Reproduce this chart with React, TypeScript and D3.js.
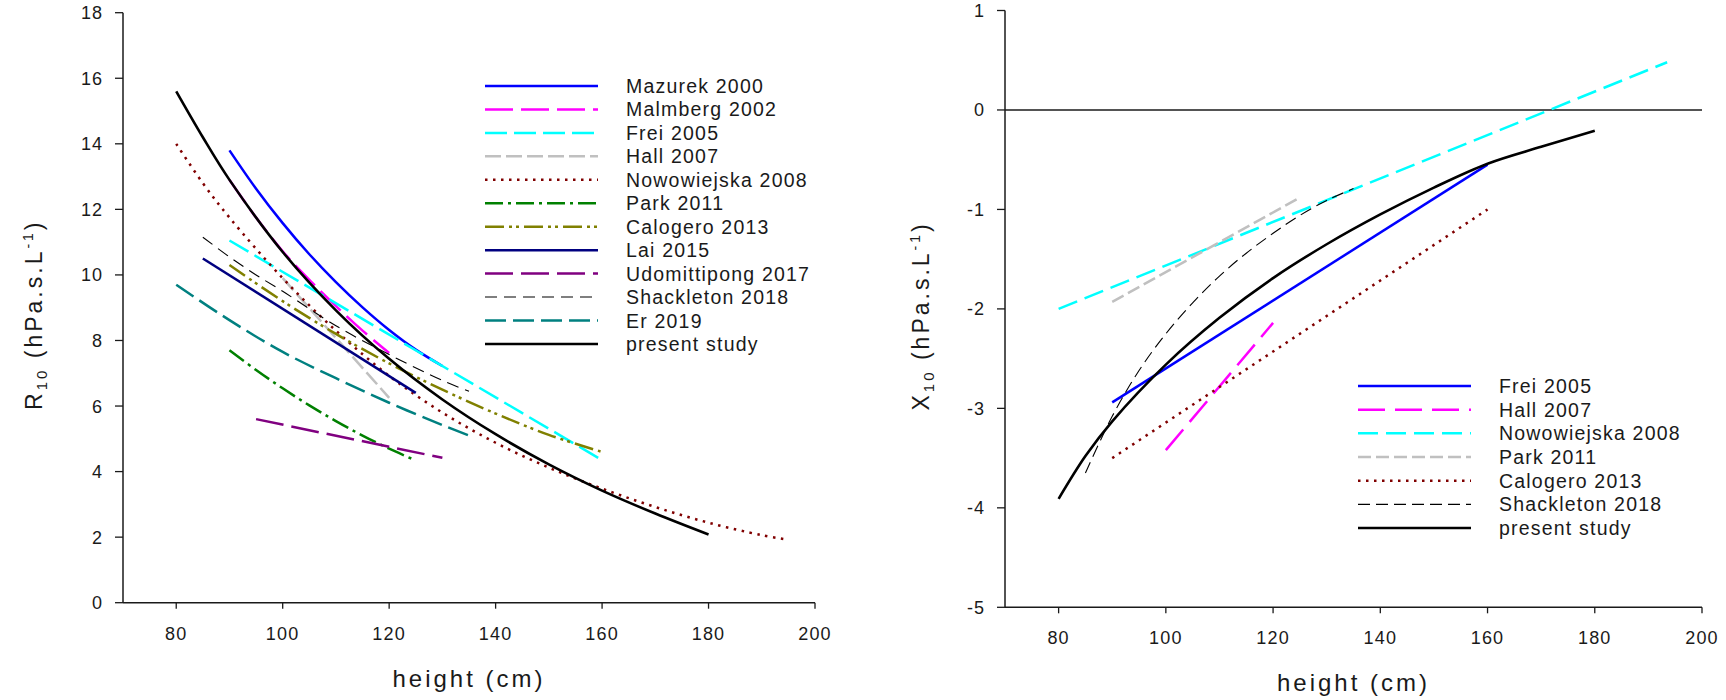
import React from "react";
import * as d3 from "d3";

// ---------- Left panel: R10 vs height ----------
const r10Mazurek2000 = [[90, 13.8], [95, 12.63], [100, 11.58], [105, 10.63], [110, 9.78], [115, 9.01], [120, 8.32], [125, 7.72], [130, 7.22]];
const r10Malmberg2002 = [[90, 12.9], [95, 11.75], [100, 10.72], [105, 9.85], [110, 9.05], [115, 8.3], [120, 7.62]];
const r10Frei2005 = [[90, 11.05], [160, 4.35]];
const r10Hall2007 = [[100, 9.9], [120, 6.25]];
const r10Nowowiejska2008 = [[80, 14.0], [85, 12.8], [90, 11.75], [100, 9.9], [110, 8.3], [120, 6.92], [130, 5.8], [140, 4.88], [150, 4.12], [160, 3.48], [170, 2.92], [180, 2.44], [190, 2.06], [195, 1.92]];
const r10Park2011 = [[90, 7.7], [95, 7.1], [100, 6.54], [105, 6.02], [110, 5.54], [115, 5.1], [120, 4.7], [125, 4.34]];
const r10Calogero2013 = [[90, 10.3], [100, 9.2], [110, 8.2], [120, 7.3], [130, 6.5], [140, 5.77], [150, 5.12], [160, 4.6]];
const r10Lai2015 = [[85, 10.5], [125, 6.4]];
const r10Udomittipong2017 = [[95, 5.6], [130, 4.42]];
const r10Shackleton2018 = [[85, 11.15], [90, 10.55], [95, 10.0], [100, 9.5], [110, 8.45], [120, 7.57], [130, 6.78], [135, 6.45]];
const r10Er2019 = [[80, 9.7], [90, 8.62], [100, 7.65], [110, 6.85], [120, 6.1], [130, 5.42], [135, 5.1]];
const r10Present = [[80, 15.6], [85, 14.2], [90, 12.9], [100, 10.7], [110, 8.92], [120, 7.44], [130, 6.2], [140, 5.14], [150, 4.22], [160, 3.42], [170, 2.72], [180, 2.08]];

// ---------- Right panel: X10 vs height ----------
const x10Frei2005 = [[90, -2.94], [160, -0.55]];
const x10Hall2007 = [[100, -3.42], [120, -2.14]];
const x10Nowowiejska2008 = [[80, -2.0], [193.5, 0.48]];
const x10Park2011 = [[90, -1.93], [125, -0.88]];
const x10Calogero2013 = [[90, -3.5], [160, -1.0]];
const x10Shackleton2018 = [[85, -3.65], [90, -3.08], [95, -2.62], [100, -2.25], [105, -1.94], [110, -1.67], [115, -1.44], [120, -1.24], [125, -1.06], [130, -0.91], [135, -0.79]];
const x10Present = [[80, -3.91], [85, -3.48], [90, -3.13], [100, -2.56], [110, -2.09], [120, -1.69], [130, -1.35], [140, -1.05], [150, -0.78], [160, -0.54], [170, -0.37], [180, -0.21]];

const xTicks = [80, 100, 120, 140, 160, 180, 200];
const leftYTicks = [0, 2, 4, 6, 8, 10, 12, 14, 16, 18];
const rightYTicks = [-5, -4, -3, -2, -1, 0, 1];

type Series = { name: string; color: string; dash: string; width: number; data: number[][] };

const leftSeries: Series[] = [
  { name: "Mazurek 2000", color: "#0000ff", dash: "", width: 2.5, data: r10Mazurek2000 },
  { name: "Malmberg 2002", color: "#ff00ff", dash: "28,8", width: 2.5, data: r10Malmberg2002 },
  { name: "Frei 2005", color: "#00ffff", dash: "22,7", width: 2.5, data: r10Frei2005 },
  { name: "Hall 2007", color: "#c0c0c0", dash: "16,5", width: 2.5, data: r10Hall2007 },
  { name: "Nowowiejska 2008", color: "#800000", dash: "2.5,5.5", width: 2.5, data: r10Nowowiejska2008 },
  { name: "Park 2011", color: "#008000", dash: "18,5,3,5", width: 2.5, data: r10Park2011 },
  { name: "Calogero 2013", color: "#808000", dash: "19,5,3,4,3,5", width: 2.5, data: r10Calogero2013 },
  { name: "Lai 2015", color: "#000080", dash: "", width: 2.5, data: r10Lai2015 },
  { name: "Udomittipong 2017", color: "#800080", dash: "28,8", width: 2.5, data: r10Udomittipong2017 },
  { name: "Shackleton 2018", color: "#000000", dash: "12,7", width: 1.1, data: r10Shackleton2018 },
  { name: "Er 2019", color: "#008080", dash: "21,7", width: 2.5, data: r10Er2019 },
  { name: "present study", color: "#000000", dash: "", width: 2.6, data: r10Present },
];

const rightSeries: Series[] = [
  { name: "Frei 2005", color: "#0000ff", dash: "", width: 2.5, data: x10Frei2005 },
  { name: "Hall 2007", color: "#ff00ff", dash: "27,10", width: 2.5, data: x10Hall2007 },
  { name: "Nowowiejska 2008", color: "#00ffff", dash: "20,8", width: 2.5, data: x10Nowowiejska2008 },
  { name: "Park 2011", color: "#c0c0c0", dash: "13,5", width: 2.5, data: x10Park2011 },
  { name: "Calogero 2013", color: "#800000", dash: "2.5,5.5", width: 2.5, data: x10Calogero2013 },
  { name: "Shackleton 2018", color: "#000000", dash: "12,6", width: 1.1, data: x10Shackleton2018 },
  { name: "present study", color: "#000000", dash: "", width: 2.6, data: x10Present },
];

const FONT = "'Liberation Sans', Arial, Helvetica, sans-serif";
const INK = "#1a1a1a";

type PanelProps = {
  xRange: [number, number];
  yDomain: [number, number];
  yRange: [number, number];
  yTicks: number[];
  series: Series[];
  legendX: number;
  legendY: number;
  legendStep: number;
  titleX: number;
  titleMain: string;
  zeroLine?: boolean;
};

function Panel(p: PanelProps) {
  const x = d3.scaleLinear().domain([70, 200]).range(p.xRange);
  const y = d3.scaleLinear().domain(p.yDomain).range(p.yRange);
  const line = d3
    .line<number[]>()
    .x((d) => x(d[0]))
    .y((d) => y(d[1]))
    .curve(d3.curveCatmullRom.alpha(0.5));
  const x0 = p.xRange[0];
  const yBottom = p.yRange[0];
  const yTop = p.yRange[1];
  const midY = (yTop + yBottom) / 2 + 7;
  return (
    <g>
      {/* axes */}
      <line x1={x0} x2={x0} y1={yTop} y2={yBottom} stroke={INK} strokeWidth={1.5} />
      <line x1={x0} x2={x(200)} y1={yBottom} y2={yBottom} stroke={INK} strokeWidth={1.5} />
      {p.zeroLine && (
        <line x1={x0} x2={x(200)} y1={y(0)} y2={y(0)} stroke={INK} strokeWidth={1.5} />
      )}
      {p.yTicks.map((t) => (
        <g key={"y" + t}>
          <line x1={x0 - 8} x2={x0} y1={y(t)} y2={y(t)} stroke={INK} strokeWidth={1.3} />
          <text
            x={x0 - 20}
            y={y(t) + 6.5}
            textAnchor="end"
            fontSize={18}
            letterSpacing={1}
            fill={INK}
            fontFamily={FONT}
          >
            {t}
          </text>
        </g>
      ))}
      {xTicks.map((t) => (
        <g key={"x" + t}>
          <line x1={x(t)} x2={x(t)} y1={yBottom} y2={yBottom + 6} stroke={INK} strokeWidth={1.3} />
          <text
            x={x(t)}
            y={yBottom + 37}
            textAnchor="middle"
            fontSize={18}
            letterSpacing={1.2}
            fill={INK}
            fontFamily={FONT}
          >
            {t}
          </text>
        </g>
      ))}
      <text
        x={(x0 + x(200)) / 2}
        y={yBottom + 84}
        textAnchor="middle"
        fontSize={24}
        letterSpacing={3}
        fill={INK}
        fontFamily={FONT}
      >
        height (cm)
      </text>
      <text
        transform={`translate(${p.titleX},${midY}) rotate(-90)`}
        textAnchor="middle"
        fontSize={23}
        letterSpacing={3}
        fill={INK}
        fontFamily={FONT}
      >
        {p.titleMain}
        <tspan fontSize={15} dy={5}>10</tspan>
        <tspan fontSize={23} dy={-5}> (hPa.s.L</tspan>
        <tspan fontSize={14} dy={-9}>-1</tspan>
        <tspan fontSize={23} dy={9}>)</tspan>
      </text>
      {/* series */}
      {p.series.map((s) => (
        <path
          key={s.name}
          d={line(s.data) || ""}
          fill="none"
          stroke={s.color}
          strokeWidth={s.width}
          strokeDasharray={s.dash || undefined}
        />
      ))}
      {/* legend */}
      {p.series.map((s, i) => {
        const ly = p.legendY + i * p.legendStep;
        return (
          <g key={"lg" + s.name}>
            <line
              x1={p.legendX}
              x2={p.legendX + 113}
              y1={ly}
              y2={ly}
              stroke={s.color}
              strokeWidth={s.width}
              strokeDasharray={s.dash || undefined}
            />
            <text
              x={p.legendX + 141}
              y={ly + 7}
              fontSize={19.5}
              letterSpacing={1.2}
              fill={INK}
              fontFamily={FONT}
            >
              {s.name}
            </text>
          </g>
        );
      })}
    </g>
  );
}

export default function App() {
  return (
    <svg
      width={1726}
      height={700}
      viewBox="0 0 1726 700"
      style={{ position: "absolute", left: 0, top: 0, background: "#ffffff" }}
    >
      <rect x={0} y={0} width={1726} height={700} fill="#ffffff" />
      <Panel
        xRange={[123, 815]}
        yDomain={[0, 18]}
        yRange={[602.7, 12.7]}
        yTicks={leftYTicks}
        series={leftSeries}
        legendX={485}
        legendY={86}
        legendStep={23.45}
        titleX={42}
        titleMain="R"
      />
      <Panel
        xRange={[1005, 1702]}
        yDomain={[-5, 1]}
        yRange={[607.3, 10.5]}
        yTicks={rightYTicks}
        series={rightSeries}
        legendX={1358}
        legendY={386}
        legendStep={23.67}
        titleX={929}
        titleMain="X"
        zeroLine
      />
    </svg>
  );
}
